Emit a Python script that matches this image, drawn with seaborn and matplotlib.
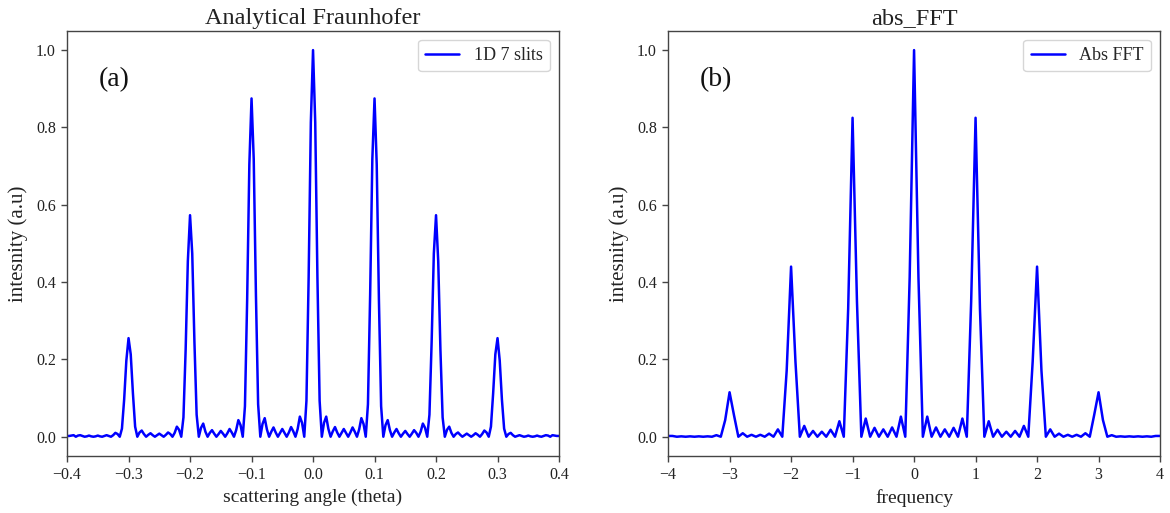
import numpy as np
import pandas as pd
import matplotlib
matplotlib.use("Agg")
import matplotlib.pyplot as plt
import seaborn as sns

# ---- data (panel a: analytical 7-slit pattern) ----
theta_min, theta_max = -0.4, 0.4
intensity_a = [
    0.002, 0.002, 0.003, 0.004, 0, 0.003, 0.004, 0.002, 0, 0.001, 0.003, 0.001, 0, 0.001,
    0.003, 0.001, 0, 0.002, 0.004, 0.002, 0, 0.004, 0.010, 0.007, 0, 0.021, 0.096, 0.197,
    0.255,
    0.213, 0.112, 0.026, 0, 0.011, 0.016, 0.007, 0, 0.005, 0.009, 0.004, 0, 0.004, 0.008,
    0.004, 0, 0.005, 0.011, 0.007, 0, 0.010, 0.026, 0.018, 0, 0.050, 0.225, 0.454,
    0.573,
    0.474, 0.245, 0.057, 0, 0.023, 0.034, 0.013, 0, 0.010, 0.017, 0.008, 0, 0.007, 0.015,
    0.008, 0, 0.009, 0.020, 0.011, 0, 0.017, 0.043, 0.030, 0, 0.079, 0.353, 0.704,
    0.875,
    0.718, 0.367, 0.084, 0, 0.033, 0.048, 0.019, 0, 0.013, 0.024, 0.011, 0, 0.010, 0.020,
    0.010, 0, 0.011, 0.025, 0.014, 0, 0.020, 0.052, 0.036, 0, 0.093, 0.412, 0.813,
    1.000,
    0.813, 0.412, 0.093, 0, 0.036, 0.052, 0.020, 0, 0.014, 0.025, 0.011, 0, 0.010, 0.020,
    0.010, 0, 0.011, 0.024, 0.013, 0, 0.019, 0.048, 0.033, 0, 0.084, 0.367, 0.718,
    0.875,
    0.704, 0.353, 0.079, 0, 0.030, 0.043, 0.017, 0, 0.011, 0.020, 0.009, 0, 0.008, 0.015,
    0.007, 0, 0.008, 0.017, 0.010, 0, 0.013, 0.034, 0.023, 0, 0.057, 0.245, 0.474,
    0.573,
    0.454, 0.225, 0.050, 0, 0.018, 0.026, 0.010, 0, 0.007, 0.011, 0.005, 0, 0.004, 0.008,
    0.004, 0, 0.004, 0.009, 0.005, 0, 0.007, 0.016, 0.011, 0, 0.026, 0.112, 0.213,
    0.255,
    0.197, 0.096, 0.021, 0, 0.007, 0.010, 0.004, 0, 0.002, 0.004, 0.002, 0, 0.001, 0.003,
    0.001, 0, 0.001, 0.003, 0.001, 0, 0.002, 0.004, 0.003, 0, 0.004, 0.003, 0.002, 0.002,
]

# ---- data (panel b: |FFT|) ----
freq_min, freq_max = -4.0, 4.0
intensity_b = [
    0.002, 0.002, 0, 0.001, 0, 0.001, 0, 0.001, 0, 0.001, 0, 0.004, 0, 0.043,
    0.115,
    0.056, 0, 0.009, 0, 0.005, 0, 0.005, 0, 0.008, 0, 0.019, 0, 0.171,
    0.440,
    0.194, 0, 0.028, 0, 0.015, 0, 0.013, 0, 0.018, 0, 0.040, 0, 0.331,
    0.825,
    0.350, 0, 0.047, 0, 0.023, 0, 0.019, 0, 0.024, 0, 0.052, 0, 0.412,
    1.000,
    0.412, 0, 0.052, 0, 0.024, 0, 0.019, 0, 0.023, 0, 0.047, 0, 0.350,
    0.825,
    0.331, 0, 0.040, 0, 0.018, 0, 0.013, 0, 0.015, 0, 0.028, 0, 0.194,
    0.440,
    0.171, 0, 0.019, 0, 0.008, 0, 0.005, 0, 0.005, 0, 0.009, 0, 0.056,
    0.115,
    0.043, 0, 0.004, 0, 0.001, 0, 0.001, 0, 0.001, 0, 0.001, 0, 0.002, 0.002,
]

xticks_a = [-0.4, -0.3, -0.2, -0.1, 0.0, 0.1, 0.2, 0.3, 0.4]
xticks_b = [-4, -3, -2, -1, 0, 1, 2, 3, 4]
yticks = [0.0, 0.2, 0.4, 0.6, 0.8, 1.0]

# ---- style ----
sns.set_style("ticks")
plt.rcParams["font.family"] = ["Liberation Serif", "DejaVu Serif"]
plt.rcParams["axes.edgecolor"] = "#444444"
plt.rcParams["xtick.color"] = "#444444"
plt.rcParams["ytick.color"] = "#444444"
plt.rcParams["xtick.labelcolor"] = "#222222"
plt.rcParams["ytick.labelcolor"] = "#222222"

df_a = pd.DataFrame({
    "theta": np.linspace(theta_min, theta_max, len(intensity_a)),
    "intensity": intensity_a,
})
df_b = pd.DataFrame({
    "frequency": np.linspace(freq_min, freq_max, len(intensity_b)),
    "intensity": intensity_b,
})

fig = plt.figure(figsize=(11.7, 5.13), dpi=100)
ax1 = fig.add_axes([0.0573, 0.111, 0.4205, 0.829])
ax2 = fig.add_axes([0.571, 0.111, 0.4205, 0.829])

sns.lineplot(data=df_a, x="theta", y="intensity", ax=ax1, color="blue",
             linewidth=1.8, label="1D 7 slits")
sns.lineplot(data=df_b, x="frequency", y="intensity", ax=ax2, color="blue",
             linewidth=1.8, label="Abs FFT")

for ax, xt, xlab, title, tag in [
    (ax1, xticks_a, "scattering angle (theta)", "Analytical Fraunhofer", "(a)"),
    (ax2, xticks_b, "frequency", "abs_FFT", "(b)"),
]:
    ax.set_xlim(xt[0], xt[-1])
    ax.set_ylim(-0.05, 1.05)
    ax.set_xticks(xt)
    ax.set_yticks(yticks)
    ax.tick_params(labelsize=11.5, length=4.5, width=1)
    ax.set_xlabel(xlab, fontsize=14, color="#222222")
    ax.set_ylabel("intesnity (a.u)", fontsize=15, color="#222222", labelpad=6)
    ax.set_title(title, fontsize=17.5, color="#222222", pad=5)
    for s in ax.spines.values():
        s.set_linewidth(1.0)
    leg = ax.legend(loc="upper right", fontsize=13, handlelength=1.9)
    ax.text(0.065, 0.885, tag, transform=ax.transAxes, fontsize=20,
            va="center", ha="left", color="#111111")

ax1.set_xticklabels([f"{v:.1f}".replace("-", "\u2212") for v in xticks_a])
ax1.set_yticklabels([f"{v:.1f}" for v in yticks])
ax2.set_xticklabels([f"{v:d}".replace("-", "\u2212") for v in xticks_b])
ax2.set_yticklabels([f"{v:.1f}" for v in yticks])

fig.savefig("out.png", dpi=100)
